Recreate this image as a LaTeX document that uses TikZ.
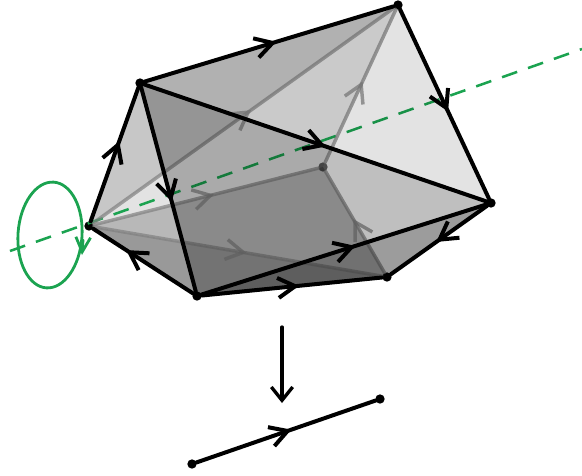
\documentclass[tikz,border=0pt]{standalone}
\usepackage{xcolor}
\usetikzlibrary{arrows.meta,decorations.markings}
\definecolor{spin}{HTML}{1BA350}
\tikzset{
  vertex/.style={circle,fill=black,inner sep=0pt,minimum size=7pt},
  hidden/.style={circle,fill=black,fill opacity=0.6,inner sep=0pt,minimum size=7pt},
  midarrow/.style={postaction={decorate,decoration={markings,mark=at position #1 with {\arrow[line cap=round]{Straight Barb[length=13pt,width=15pt]}}}}},
  front/.style={line width=3pt,line cap=round,black},
  back/.style={line width=2.6pt,line cap=round,black!50!white,draw opacity=0.7},
  face/.style={fill=black,fill opacity=#1},
}
\begin{document}
\begin{tikzpicture}[x=0.75pt,y=-0.75pt]
  \useasboundingbox (0,0) rectangle (582,475);

  \coordinate (axisa) at (10,251);
  \coordinate (axisb) at (582,49);
  \coordinate (spina) at (83,240);
  \coordinate (spinb) at (82,255);

  \node[vertex] (left) at (89,226) {};
  \node[vertex] (upper) at (140,83) {};
  \node[vertex] (top) at (398,5) {};
  \node[vertex] (right) at (491,203) {};
  \node[vertex] (low) at (197,296) {};
  \node[vertex] (lowr) at (387,277) {};
  \node[hidden] (rear) at (323,167) {};
  \node[vertex] (basea) at (192,464) {};
  \node[vertex] (baseb) at (380,399) {};

  % Back faces
  \fill[face=0.22] (left.center) -- (upper.center) -- (top.center) -- cycle;
  \fill[face=0.11] (left.center) -- (top.center) -- (rear.center) -- cycle;
  \fill[face=0.28] (left.center) -- (rear.center) -- (lowr.center) -- cycle;
  \fill[face=0.40] (left.center) -- (lowr.center) -- (low.center) -- cycle;

  % Axis and spin
  \draw[spin,line width=1.9pt,dash pattern=on 12pt off 8.6pt] (axisa) -- (axisb);
  \draw[spin,line width=2.1pt] (50,235) ellipse [x radius=32,y radius=53,rotate=-4];
  \draw[spin,line width=2.1pt,line cap=round,-{Straight Barb[length=11pt,width=11pt]}] (spina) -- (spinb);

  % Back edges
  \draw[back,midarrow=0.525] (left) -- (top);
  \draw[back,midarrow=0.535] (left) -- (rear);
  \draw[back,midarrow=0.53] (left) -- (lowr);
  \draw[back,midarrow=0.53] (rear) -- (top);
  \draw[back,midarrow=0.53] (lowr) -- (rear);

  % Front faces
  \fill[face=0.11] (upper.center) -- (top.center) -- (right.center) -- cycle;
  \fill[face=0.25] (upper.center) -- (low.center) -- (right.center) -- cycle;
  \fill[face=0.39] (low.center) -- (lowr.center) -- (right.center) -- cycle;

  % Front edges
  \draw[front,midarrow=0.6] (left) -- (upper);
  \draw[front,midarrow=0.53] (upper) -- (top);
  \draw[front,midarrow=0.54] (top) -- (right);
  \draw[front,midarrow=0.53] (upper) -- (right);
  \draw[front,midarrow=0.56] (upper) -- (low);
  \draw[front,midarrow=0.67] (low) -- (left);
  \draw[front,midarrow=0.54] (low) -- (lowr);
  \draw[front,midarrow=0.54] (low) -- (right);
  \draw[front,midarrow=0.53] (right) -- (lowr);

  % Projection
  \coordinate (maptop) at (282,327);
  \coordinate (mapend) at (282,403);
  \draw[line width=2.5pt,line cap=round,-{Straight Barb[length=10pt,width=16pt]}] (maptop) -- (mapend);
  \draw[front,midarrow=0.53] (basea) -- (baseb);
\end{tikzpicture}
\end{document}
